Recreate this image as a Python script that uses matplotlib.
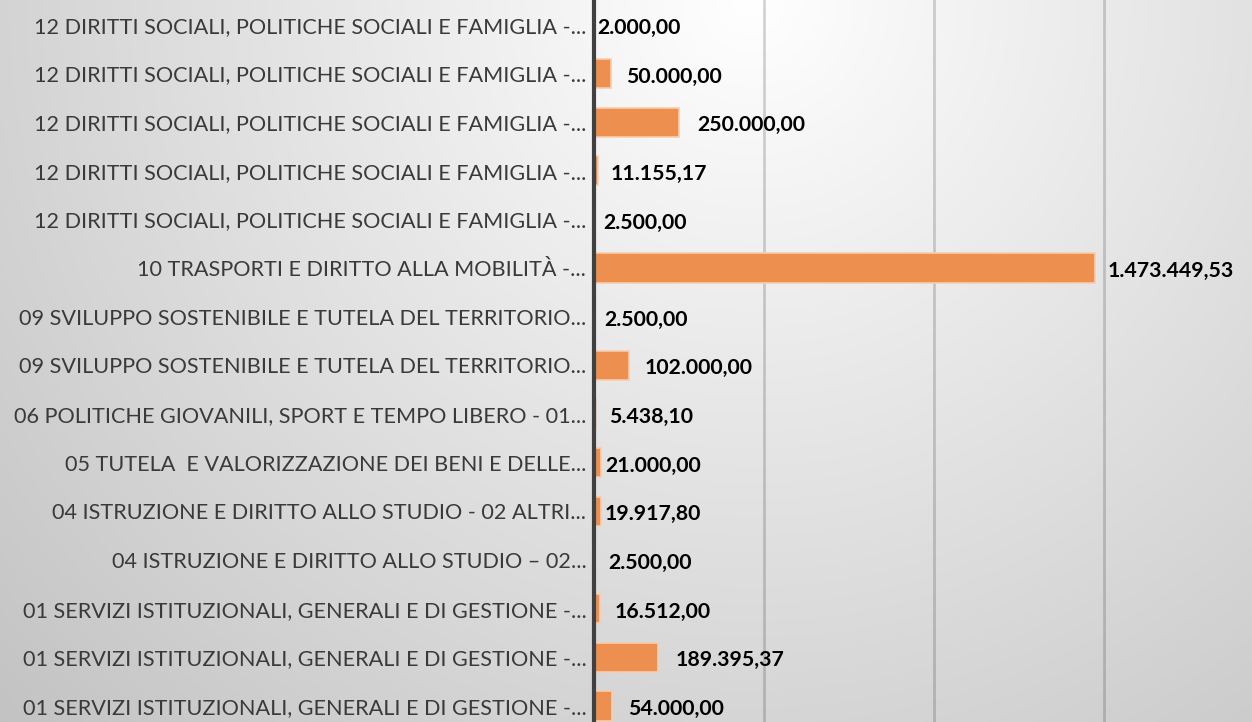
import numpy as np
import matplotlib
matplotlib.use('Agg')
import matplotlib.pyplot as plt

# Chart data (top to bottom as shown)
categories = [
    '12 DIRITTI SOCIALI, POLITICHE SOCIALI E FAMIGLIA -...',
    '12 DIRITTI SOCIALI, POLITICHE SOCIALI E FAMIGLIA -...',
    '12 DIRITTI SOCIALI, POLITICHE SOCIALI E FAMIGLIA -...',
    '12 DIRITTI SOCIALI, POLITICHE SOCIALI E FAMIGLIA -...',
    '12 DIRITTI SOCIALI, POLITICHE SOCIALI E FAMIGLIA -...',
    '10 TRASPORTI E DIRITTO ALLA MOBILITÀ -...',
    '09 SVILUPPO SOSTENIBILE E TUTELA DEL TERRITORIO...',
    '09 SVILUPPO SOSTENIBILE E TUTELA DEL TERRITORIO...',
    '06 POLITICHE GIOVANILI, SPORT E TEMPO LIBERO - 01...',
    '05 TUTELA  E VALORIZZAZIONE DEI BENI E DELLE...',
    '04 ISTRUZIONE E DIRITTO ALLO STUDIO - 02 ALTRI...',
    '04 ISTRUZIONE E DIRITTO ALLO STUDIO – 02...',
    '01 SERVIZI ISTITUZIONALI, GENERALI E DI GESTIONE -...',
    '01 SERVIZI ISTITUZIONALI, GENERALI E DI GESTIONE -...',
    '01 SERVIZI ISTITUZIONALI, GENERALI E DI GESTIONE -...',
]
values = [2000.00, 50000.00, 250000.00, 11155.17, 2500.00,
          1473449.53, 2500.00, 102000.00, 5438.10, 21000.00,
          19917.80, 2500.00, 16512.00, 189395.37, 54000.00]
gridlines = [500000, 1000000, 1500000]

# label gap from bar end, in pixels (as placed in the original)
label_gap = [3, 15, 18, 13, 8, 13, 9, 16, 13, 4, 4, 13, 15, 17, 16]


def it_fmt(v):
    s = f'{v:,.2f}'
    return s.replace(',', 'X').replace('.', ',').replace('X', '.')


W, H, DPI = 1252, 722, 100
fig = plt.figure(figsize=(W / DPI, H / DPI), dpi=DPI)

# background: soft radial gradient, white near the top middle
bg = fig.add_axes([0, 0, 1, 1], zorder=-1)
yy, xx = np.mgrid[0:H, 0:W]
dist = np.hypot(xx - 750, (yy - 0) * 1.0)
shade = np.clip(255 - 0.058 * dist, 0, 255) / 255.0
bg.imshow(np.dstack([shade] * 3), aspect='auto', extent=[0, 1, 0, 1])
bg.set_axis_off()

ax_left = 594 / W
ax = fig.add_axes([ax_left, 0, 1 - ax_left, 1])
ax.patch.set_alpha(0)

y = np.arange(len(categories))
ax.barh(y, values, height=0.6, color='#ED8F4E', edgecolor='#F9CDAE',
        linewidth=1.2, zorder=3)

for gx in gridlines:
    ax.axvline(gx, color='black', alpha=0.17, linewidth=2, zorder=1)

ax.set_xlim(0, 1935000)
ax.set_ylim(14.33, -0.51)

for i, v in enumerate(values):
    ax.annotate(it_fmt(v), xy=(v, i), xytext=(label_gap[i] * 0.72, -2.2),
                textcoords='offset points', ha='left', va='center',
                fontsize=15.3, fontweight='bold', family='Lato', color='black',
                zorder=4)

ax.set_yticks(y)
ax.set_yticklabels(categories, fontsize=15.6, family='Lato', color='#3a3a3a')
ax.tick_params(axis='y', length=0, pad=5.5)
ax.set_xticks([])

for s in ['top', 'right', 'bottom']:
    ax.spines[s].set_visible(False)
ax.spines['left'].set_color('#404040')
ax.spines['left'].set_linewidth(3)
ax.spines['left'].set_zorder(5)

fig.savefig('out.png', dpi=DPI)
